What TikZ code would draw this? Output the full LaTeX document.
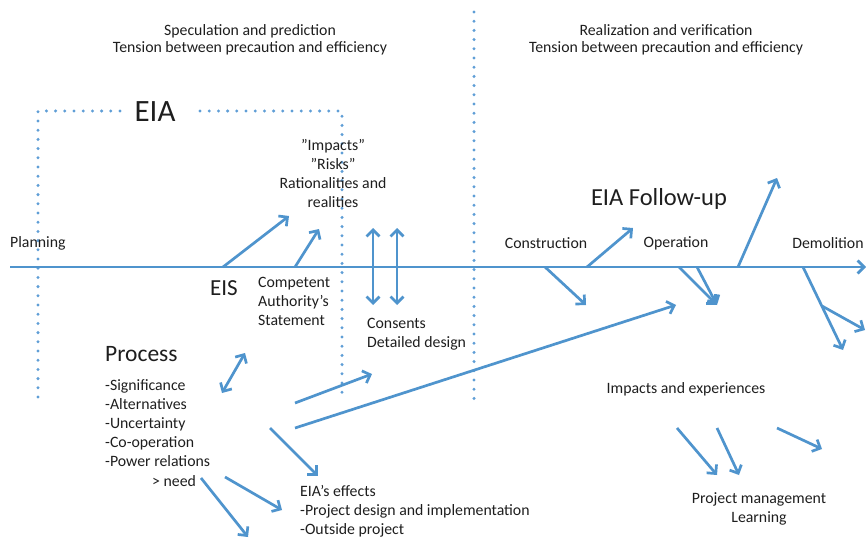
\documentclass[tikz,border=0pt]{standalone}
\usepackage{fontspec}
\setmainfont{Carlito}
\usetikzlibrary{arrows.meta}
\definecolor{lb}{RGB}{79,148,205}
\definecolor{dotc}{RGB}{95,158,214}
\definecolor{txt}{RGB}{30,30,30}
\tikzset{
  >={Straight Barb[length=6.5pt,width=13pt]},
  lbl/.style={font=\fontsize{15.8}{19}\selectfont, text=txt, inner sep=0pt},
  hdr/.style={font=\fontsize{15.8}{17}\selectfont, text=txt, inner sep=0pt, align=center},
  big/.style={text=txt, inner sep=0pt},
  arr/.style={draw=lb, line width=2.7pt, ->},
  darr/.style={draw=lb, line width=2.7pt, <->},
  dotline/.style={draw=dotc, line width=3.3pt, line cap=round, dash pattern=on 0pt off 9.2pt},
}
\begin{document}
\begin{tikzpicture}[x=1pt,y=-1pt]
\useasboundingbox (0,0) rectangle (866,540);

% dotted lines
\draw[dotline] (38,397) -- (38,111) -- (126,111);
\draw[dotline] (200,111) -- (342,111) -- (342,397);
\draw[dotline] (474,12) -- (474,403);

% headers
\node[hdr] (hdrL) at (250,40) {Speculation and prediction\\Tension between precaution and efficiency};
\node[hdr] (hdrR) at (666,40) {Realization and verification\\Tension between precaution and efficiency};

% big labels
\node[big, font=\fontsize{31}{34}\selectfont] (eia) at (155,112) {EIA};
\node[big, font=\fontsize{23}{26}\selectfont] (eis) at (224,288) {EIS};
\node[big, font=\fontsize{23.5}{26}\selectfont, anchor=west] (process) at (105,354) {Process};
\node[big, font=\fontsize{24.5}{27}\selectfont] (followup) at (659,199) {EIA Follow-up};

% small labels
\node[lbl, anchor=west] (planning) at (10,243) {Planning};
\node[lbl, align=center] (impacts) at (333,173.5) {”Impacts”\\”Risks”\\Rationalities and\\realities};
\node[lbl, align=left, anchor=west] (cas) at (258,301) {Competent\\Authority’s\\Statement};
\node[lbl, align=left, anchor=west] (consents) at (367,334.5) {Consents\\Detailed design};
\node[lbl, align=left, anchor=west] (list) at (105,423) {-Significance\\-Alternatives\\-Uncertainty\\-Co-operation\\-Power relations};
\node[lbl, anchor=west] (need) at (152,481) {> need};
\node[lbl, align=left, anchor=west] (effects) at (300,511) {EIA’s effects\\-Project design and implementation\\-Outside project};
\node[lbl] (construction) at (546,243) {Construction};
\node[lbl] (operation) at (676,243) {Operation};
\node[lbl] (demolition) at (828,243) {Demolition};
\node[lbl] (impexp) at (686,389) {Impacts and experiences};
\node[lbl, align=center] (pm) at (759,509) {Project management\\Learning};

% coordinates
\coordinate (mainL) at (10,267);
\coordinate (mainR) at (866,267);
\coordinate (a1s) at (223,267);  \coordinate (a1e) at (289,216);
\coordinate (a2s) at (295,267);  \coordinate (a2e) at (319,229);
\coordinate (d1s) at (373,228);  \coordinate (d1e) at (373,305);
\coordinate (d2s) at (397,228);  \coordinate (d2e) at (397,305);
\coordinate (d3s) at (222,393);  \coordinate (d3e) at (245,353);
\coordinate (b1s) at (295,403);  \coordinate (b1e) at (372,374);
\coordinate (b2s) at (295,428);  \coordinate (b2e) at (676,305);
\coordinate (b3s) at (270,428);  \coordinate (b3e) at (318,476);
\coordinate (b4s) at (225,477);  \coordinate (b4e) at (282,510);
\coordinate (b5s) at (201,478);  \coordinate (b5e) at (248,537);
\coordinate (c1s) at (545,267);  \coordinate (c1e) at (586,305);
\coordinate (c2s) at (587,267);  \coordinate (c2e) at (633,228);
\coordinate (o1s) at (679,267);  \coordinate (o2s) at (697,267);
\coordinate (o1e) at (717,305);
\coordinate (o3s) at (738,267);  \coordinate (o3e) at (777,178);
\coordinate (m1s) at (803,267);  \coordinate (m1e) at (843,350);
\coordinate (m2s) at (822,306);  \coordinate (m2e) at (865,330);
\coordinate (i1s) at (677,428);  \coordinate (i1e) at (717,475);
\coordinate (i2s) at (717,428);  \coordinate (i2e) at (739,475);
\coordinate (i3s) at (777,428);  \coordinate (i3e) at (822,449);

% main timeline
\draw[arr] (mainL) -- (mainR);

% arrows
\draw[arr] (a1s) -- (a1e);
\draw[arr] (a2s) -- (a2e);
\draw[darr] (d1s) -- (d1e);
\draw[darr] (d2s) -- (d2e);
\draw[darr] (d3s) -- (d3e);
\draw[arr] (b1s) -- (b1e);
\draw[arr] (b2s) -- (b2e);
\draw[arr] (b3s) -- (b3e);
\draw[arr] (b4s) -- (b4e);
\draw[arr] (b5s) -- (b5e);
\draw[arr] (c1s) -- (c1e);
\draw[arr] (c2s) -- (c2e);
\draw[arr] (o1s) -- (o1e);
\draw[arr] (o2s) -- (o1e);
\draw[arr] (o3s) -- (o3e);
\draw[arr] (m1s) -- (m1e);
\draw[arr] (m2s) -- (m2e);
\draw[arr] (i1s) -- (i1e);
\draw[arr] (i2s) -- (i2e);
\draw[arr] (i3s) -- (i3e);
\end{tikzpicture}
\end{document}
